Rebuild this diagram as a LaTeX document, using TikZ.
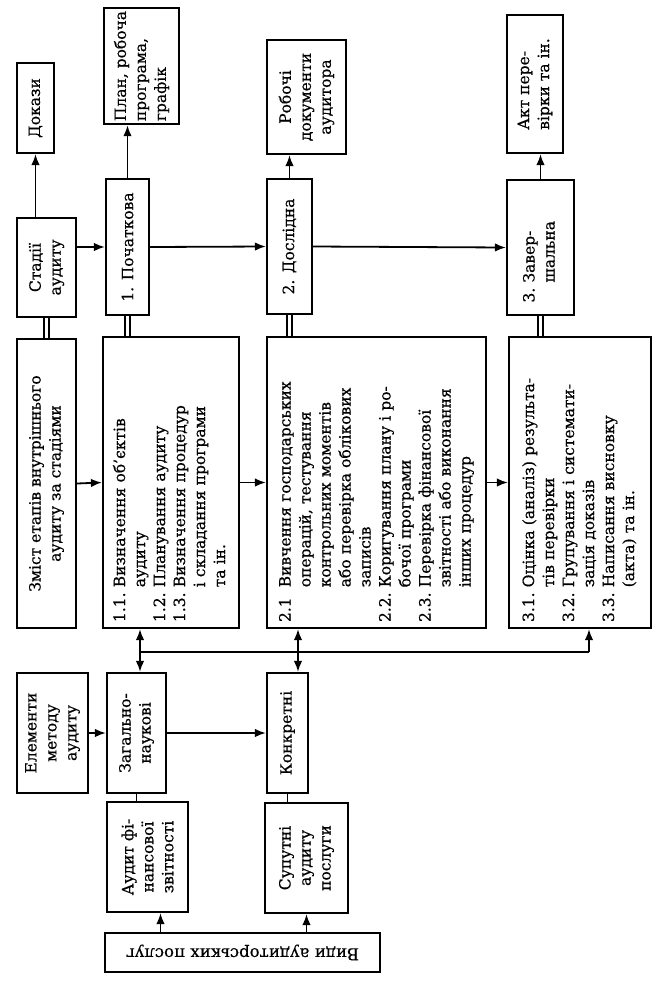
\documentclass[tikz,border=0pt]{standalone}
\usepackage{fontspec}
\setmainfont{DejaVu Serif}[FakeBold=0.5]
\usetikzlibrary{arrows.meta}

\newcommand{\lblfont}{\fontsize{15.5}{20}\selectfont}
\newcommand{\lstfont}{\fontsize{15.5}{20}\selectfont}

\begin{document}
\begin{tikzpicture}[x=1pt, y=-1pt,
    box/.style={draw, line width=2.2pt, rotate=90, inner sep=3pt, font=\lblfont, align=center},
    lst/.style={box, align=left, inner sep=6pt, font=\lstfont},
    wire/.style={line width=1.8pt},
    tip/.tip={Latex[length=11pt, width=8.5pt]},
    arr/.style={wire, -tip},
    dbl/.style={line width=1.7pt, double, double distance=3.6pt}]
    \useasboundingbox (0,0) rectangle (660,989);
    % Outputs of the stages:
    \node[box, minimum width=90, minimum height=37] (dk) at (35.5,108) {Докази};
    \node[box, align=left, minimum width=102, minimum height=75] (pl) at (141.5,66) {План, робоча\\програма,\\графік};
    \node[box, minimum width=114, minimum height=79] (rd) at (306.5,97) {Робочі\\документи\\аудитора};
    \node[box, align=left, minimum width=138, minimum height=56] (ak) at (535,84) {Акт пере-\\вірки та ін.};
    % Stages:
    \node[box, minimum width=99, minimum height=59] (st) at (46.5,267.5) {Стадії\\аудиту};
    \node[box, minimum width=136, minimum height=43] (s1) at (127.5,247) {1. Початкова};
    \node[box, minimum width=135, minimum height=45] (s2) at (289.5,246.5) {2. Дослідна};
    \node[box, align=left, text width=110, minimum width=135, minimum height=67] (s3) at (540.5,247.5) {\begin{tabular}{@{}l@{\ }l@{}}3.&Завер-\\&шальна\end{tabular}};
    % Contents of the stages:
    \node[box, minimum width=289, minimum height=59] (zm) at (46.5,483.5) {Зміст етапів внутрішнього\\аудиту за стадіями};
    \node[lst, minimum width=291, minimum height=136, text width=279] (c1) at (171,482.5) {%
      \begin{tabular}{@{}l@{\ }l@{}}
        1.1. & Визначення об’єктів\\
             & аудиту\\
        1.2. & Планування аудиту\\
        1.3. & Визначення процедур\\
             & і складання програми\\
             & та ін.
      \end{tabular}};
    \node[lst, minimum width=291, minimum height=219, text width=279] (c2) at (376.5,482.5) {%
      \begin{tabular}{@{}l@{\ }l@{}}
        2.1  & Вивчення господарських\\
             & операцій, тестування\\
             & контрольних моментів\\
             & або перевірка облікових\\
             & записів\\
        2.2. & Коригування плану і ро-\\
             & бочої програми\\
        2.3. & Перевірка фінансової\\
             & звітності або виконання\\
             & інших процедур
      \end{tabular}};
    \node[lst, minimum width=291, minimum height=142, text width=279] (c3) at (580,482.5) {%
      \begin{tabular}{@{}l@{\ }l@{}}
        3.1. & Оцінка (аналіз) результа-\\
             & тів перевірки\\
        3.2. & Групування і системати-\\
             & зація доказів\\
        3.3. & Написання висновку\\
             & (акта) та ін.
      \end{tabular}};
    % Method of the audit:
    \node[box, minimum width=120, minimum height=71] (el) at (52.5,733) {Елементи\\методу\\аудиту};
    \node[box, minimum width=120, minimum height=59] (zn) at (136.5,733) {Загально-\\наукові};
    \node[box, minimum width=120, minimum height=41] (kn) at (287.5,733) {Конкретні};
    \node[box, minimum width=110, minimum height=81] (af) at (147.5,857) {Аудит фі-\\нансової\\звітності};
    \node[box, minimum width=110, minimum height=83] (sp) at (306.5,858) {Супутні\\аудиту\\послуги};
    \node[box, rotate=90, minimum width=275, minimum height=39, font=\fontsize{16.5}{20}\selectfont] (vd) at (242.5,952.5) {Види аудиторських послуг}; % upside down
    % Wires:
    \draw[arr] (st.east -| dk) -- (dk.west);
    \draw[arr] (st.south |- s1) -- (s1.north);
    \draw[arr] (s1.south) -- (s2.north);
    \draw[arr] (s2.south) -- (s3.north);
    \draw[arr] (s1.east) -- (s1.east |- pl.west);
    \draw[arr] (s2.east) -- (s2.east |- rd.west);
    \draw[arr] (s3.east) -- (s3.east |- ak.west);
    \draw[dbl] (st.west) -- (st.west |- zm.east);
    \draw[dbl] (s1.west) -- (s1.west |- c1.east);
    \draw[dbl] (s2.west) -- (s2.west |- c2.east);
    \draw[dbl] (s3.west) -- (s3.west |- c3.east);
    \draw[arr] (zm.south) -- (c1.north);
    \draw[arr] (c1.south) -- (c2.north);
    \draw[arr] (c2.south) -- (c3.north);
    \coordinate (b1) at (140,652);
    \coordinate (b2) at (298,652);
    \coordinate (b3) at (589,652);
    \draw[wire] (b1) -- (b3);
    \draw[wire, tip-tip] (b1 |- c1.west) -- (b1 |- zn.east);
    \draw[wire, tip-tip] (b2 |- c2.west) -- (b2 |- kn.east);
    \draw[arr] (b3) -- (b3 |- c3.west);
    \draw[arr] (el.south) -- (zn.north);
    \draw[arr] (zn.south) -- (kn.north);
    \draw[wire] (zn.west) -- (zn.west |- af.east);
    \draw[wire] (kn.west) -- (kn.west |- sp.east);
    \path (af.west) ++(13,0) coordinate (afin);
    \draw[arr] (vd.south -| afin) -- (afin);
    \draw[arr] (vd.south -| sp) -- (sp.west);
\end{tikzpicture}
\end{document}
